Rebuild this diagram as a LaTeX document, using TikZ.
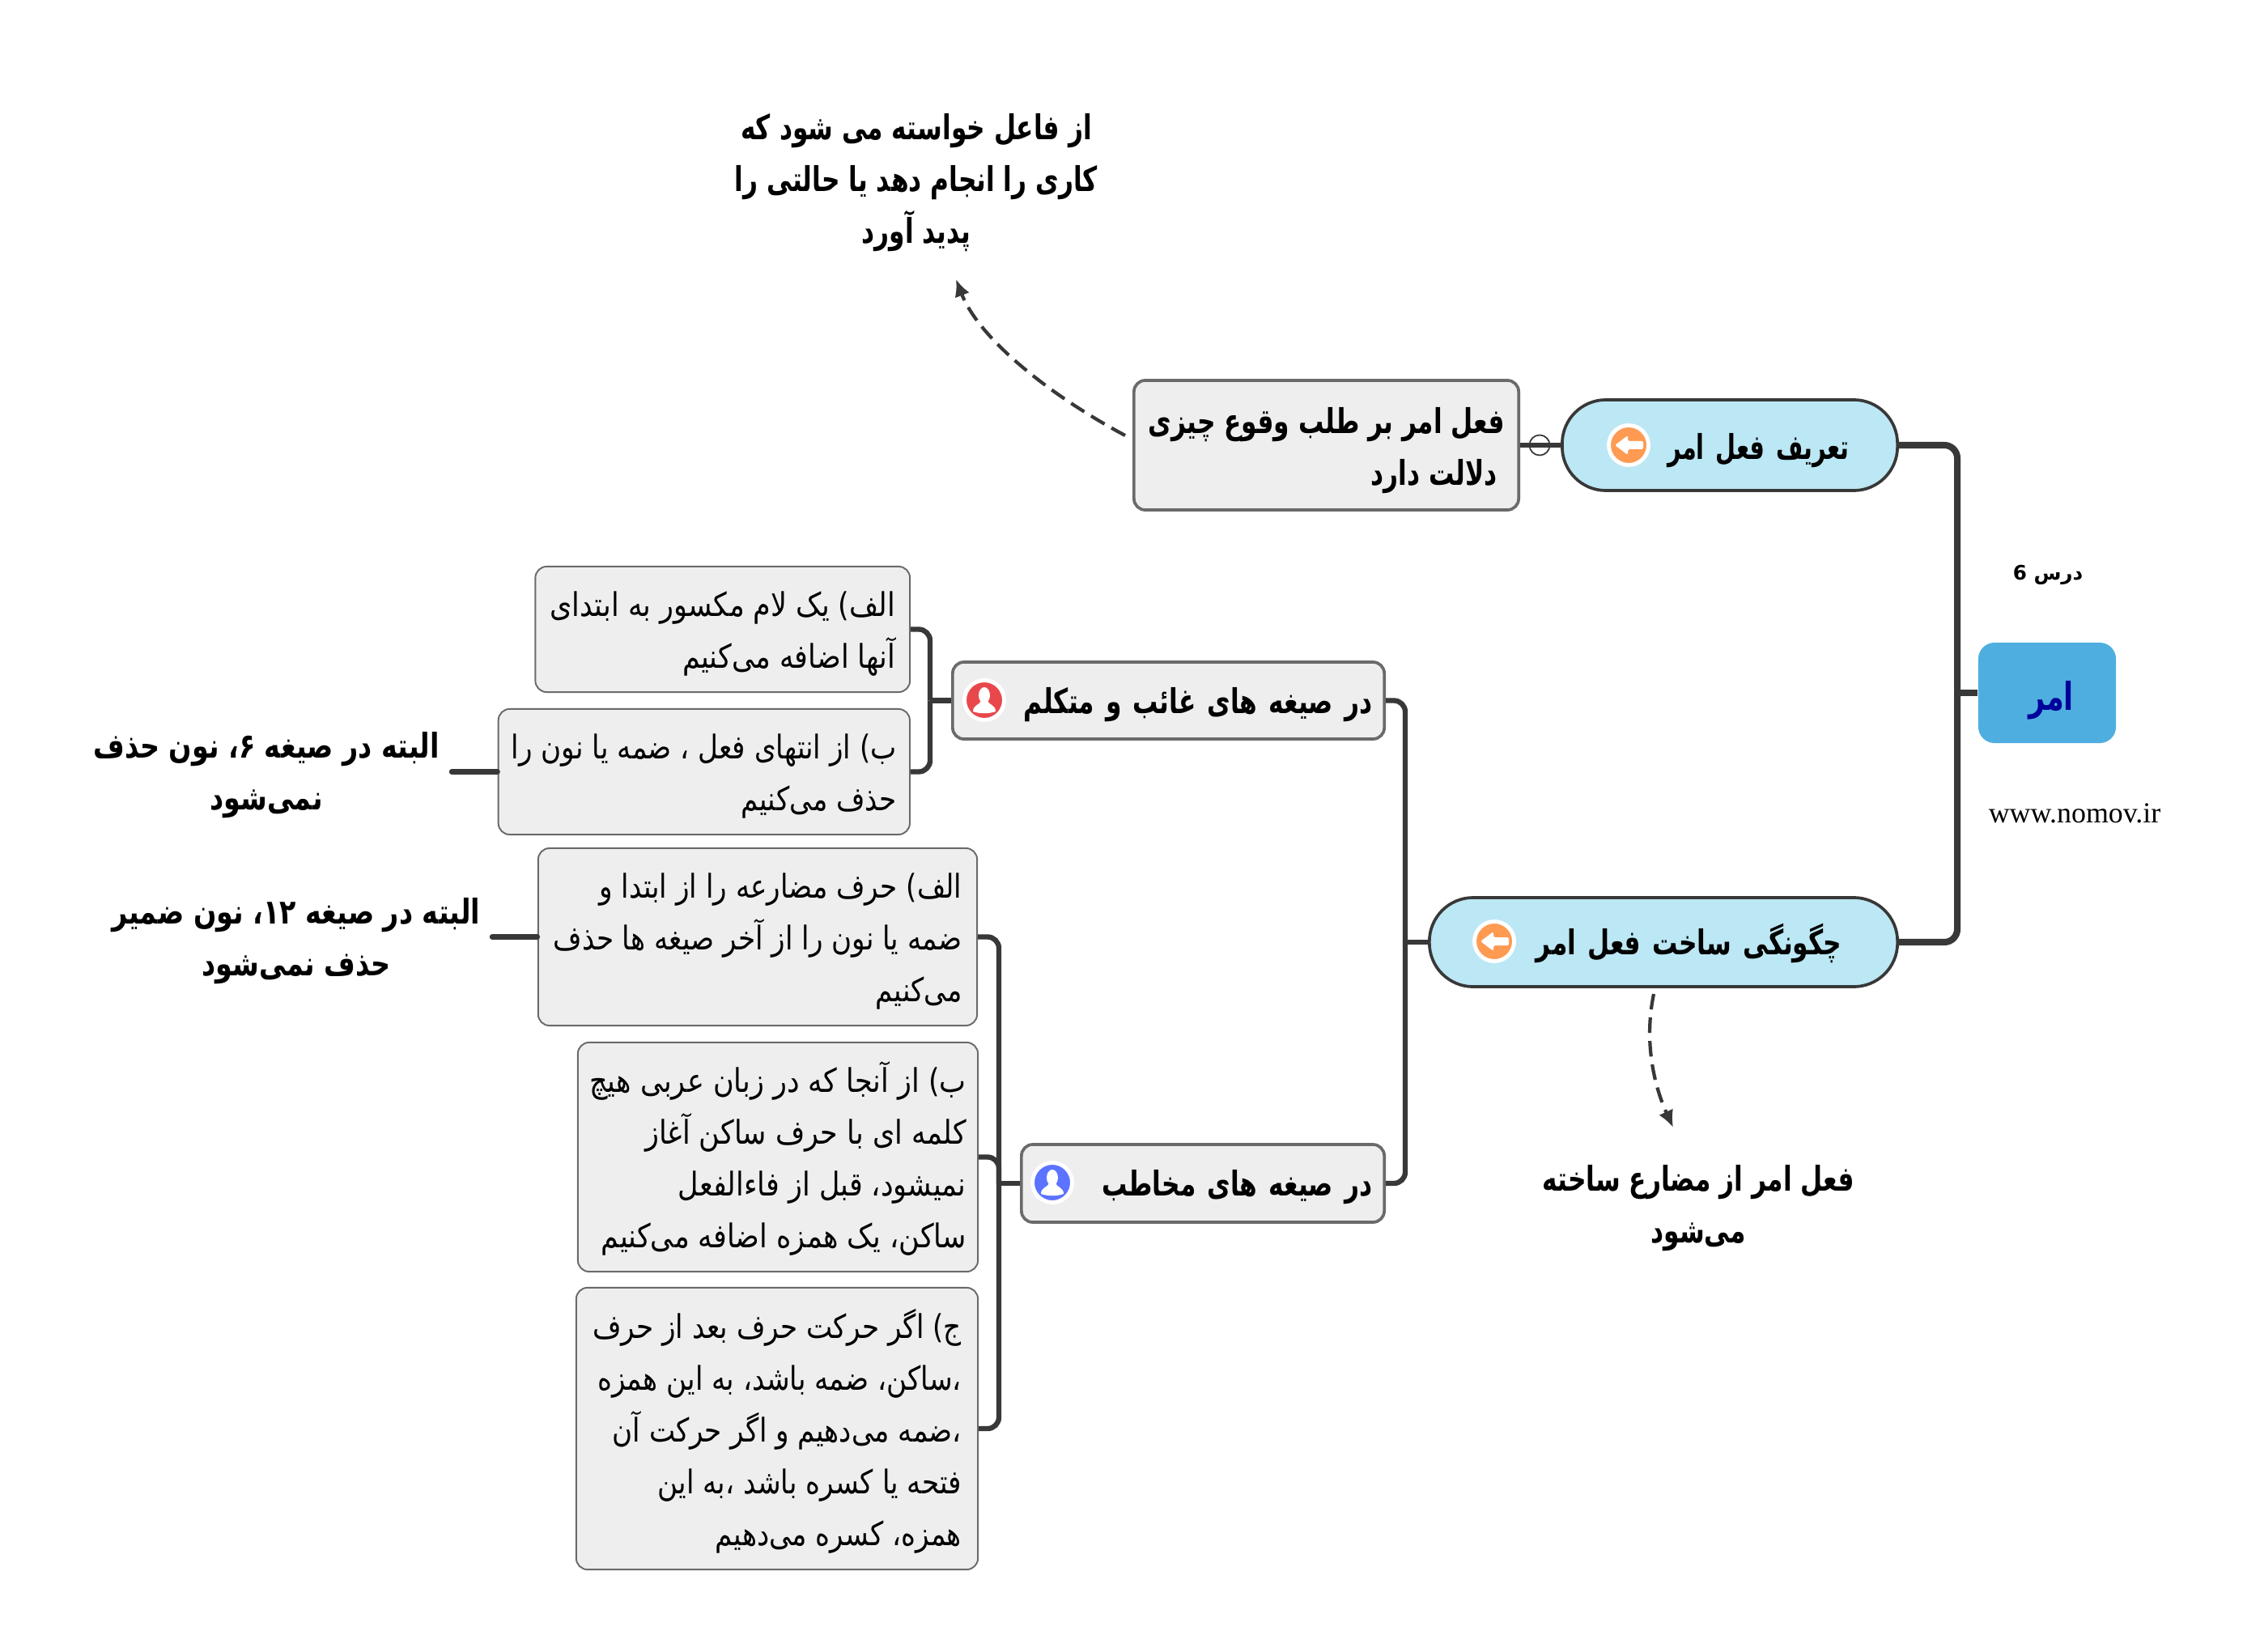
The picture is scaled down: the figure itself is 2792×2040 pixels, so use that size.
\documentclass[tikz,border=0pt]{standalone}
\usepackage{fontspec}
\setmainfont{Liberation Serif}
\newfontfamily\fa[Script=Arabic,FakeStretch=0.865]{DejaVu Sans}
\newfontfamily\fan[Script=Arabic,FakeStretch=0.845]{DejaVu Sans}
\newfontfamily\fab[Script=Arabic,FakeStretch=0.74]{DejaVu Sans}
\newfontfamily\fabn[Script=Arabic,FakeStretch=0.68]{DejaVu Sans}
\newfontfamily\fabw[Script=Arabic,FakeStretch=0.79]{DejaVu Sans}
\newfontfamily\faw[Script=Arabic]{DejaVu Sans}
\TeXXeTstate=1
\newcommand{\rl}[1]{\beginR #1\endR}
\newcommand{\fl}[1]{\rule{0pt}{0.42cm}\beginR #1\endR}
\newcommand{\flb}[1]{\rule{0pt}{0.45cm}\beginR #1\endR}
\usetikzlibrary{arrows.meta}
\definecolor{linec}{HTML}{383838}
\definecolor{boxf}{HTML}{EEEEEE}
\definecolor{boxd}{HTML}{6A6A6A}
\definecolor{pillf}{HTML}{BCE7F4}
\definecolor{rootf}{HTML}{4FAEE0}
\definecolor{roott}{HTML}{00009B}
\definecolor{ico}{HTML}{FF9A52}
\definecolor{icr}{HTML}{E8484C}
\definecolor{icb}{HTML}{5B73FF}
\tikzset{
 body/.style={font=\fa\fontsize{11.5}{18.2}\selectfont,align=right,inner sep=0pt},
 bodyn/.style={font=\fan\fontsize{11.5}{18.2}\selectfont},
 heavy/.style={font=\fab\bfseries\fontsize{12}{18.2}\selectfont,align=right,inner sep=0pt},
 heavyn/.style={font=\fabn\bfseries\fontsize{12}{18.2}\selectfont},
 heavyw/.style={font=\fabw\bfseries\fontsize{12}{18.2}\selectfont},
 thinbox/.style={body,draw=boxd,fill=boxf,line width=0.55pt,rounded corners=0.14cm},
 headbox/.style={heavy,draw=boxd,fill=boxf,line width=1.05pt,rounded corners=0.14cm},
 pill/.style={heavy,draw=linec,fill=pillf,line width=1.05pt,rounded corners=0.54cm},
 note/.style={heavy,align=center},
 tr0/.style={draw=linec,line width=2.3pt,rounded corners=0.16cm},
 tr1/.style={draw=linec,line width=1.8pt,rounded corners=0.14cm},
 dash1/.style={draw=linec,line width=1.2pt,dash pattern=on 5.5pt off 2.8pt,-{Latex[length=6pt,width=5.5pt]}},
 ringi/.style={circle,draw=white,line width=1.4pt,minimum size=0.49cm,inner sep=0pt},
 pics/arrowicon/.style={code={
   \fill[white,rounded corners=0.5pt] (-17,0) -- (-1,-12) -- (-1,-5) -- (18,-5) -- (18,5) -- (-1,5) -- (-1,12) -- cycle;}},
 pics/personicon/.style={code={
   \fill[white] (0,-6) ellipse (7 and 10);
   \fill[white] (-14,14) .. controls (-14,6) and (-6,6) .. (-4,1) -- (4,1) .. controls (6,6) and (14,6) .. (14,14) .. controls (6,17) and (-6,17) .. (-14,14) -- cycle;}},
}
\begin{document}
\begin{tikzpicture}[x=0.01cm,y=-0.01cm]
\useasboundingbox (0,0) rectangle (2792,2040);
% coordinates
\coordinate (c0) at (2418,856);
\coordinate (c1) at (1149,865.5);
\coordinate (c2) at (1234,1462);
\coordinate (c3) at (1736,1164);
\coordinate (p1) at (2344,550);
\coordinate (p2) at (2344,1164);
% trunk lies under the nodes
\draw[tr0] (p1) -| (c0);
\draw[tr0] (p2) -| (c0);
% nodes
\node[fill=rootf,rounded corners=0.2cm,minimum width=1.7cm,minimum height=1.24cm,inner sep=0pt,text=roott,font=\fab\bfseries\fontsize{13.5}{15}\selectfont] (root) at (2529,856) {\rule{0pt}{0.55cm}\hspace*{0.1cm}\rl{امر}};
\node[font=\faw\bfseries\fontsize{7}{9}\selectfont,inner sep=0pt] (les) at (2530,710) {\rl{درس 6}};
\node[font=\fontsize{10.2}{12}\selectfont,inner sep=0pt] (web) at (2563,1005) {www.nomov.ir};
\node[pill,heavyn,minimum width=4.14cm,minimum height=1.12cm,text width=2.94cm,inner xsep=0.6cm] (tarif) at (2137,550) {\flb{تعریف فعل امر}};
\node[pill,minimum width=5.78cm,minimum height=1.10cm,text width=4.4cm,inner xsep=0.69cm] (sakht) at (2055,1164) {\rule{0pt}{0.42cm}\rl{چگونگی ساخت فعل امر}};
\node[headbox,minimum width=4.75cm,minimum height=1.6cm] (defn) at (1638.5,550) {\flb{فعل امر بر طلب وقوع چیزی}\\\rl{دلالت دارد}\hspace*{0.09cm}};
\node[headbox,minimum width=5.33cm,minimum height=0.95cm,text width=5.03cm,inner xsep=0.15cm] (ghaeb) at (1443.5,865.5) {\fl{در صیغه های غائب و متکلم}};
\node[headbox,minimum width=4.48cm,minimum height=0.96cm,text width=4.18cm,inner xsep=0.15cm] (mokh) at (1486,1462) {\fl{در صیغه های مخاطب}};
\node[thinbox,minimum width=4.625cm,minimum height=1.55cm] (a1) at (892.75,777.5) {\fl{الف) یک لام مکسور به ابتدای}\\\rl{آنها اضافه می‌کنیم}};
\node[thinbox,bodyn,minimum width=5.08cm,minimum height=1.55cm] (b1) at (869.8,953.5) {\fl{ب) از انتهای فعل ، ضمه یا نون را}\\\rl{حذف می‌کنیم}};
\node[thinbox,bodyn,minimum width=5.42cm,minimum height=2.19cm] (a2) at (936,1157.5) {\fl{الف) حرف مضارعه را از ابتدا و}\\\rl{ضمه یا نون را از آخر صیغه ها حذف}\\\rl{می‌کنیم}};
\node[thinbox,minimum width=4.94cm,minimum height=2.83cm] (b2) at (961,1429.5) {\fl{ب) از آنجا که در زبان عربی هیچ}\\\rl{کلمه ای با حرف ساکن آغاز}\\\rl{نمیشود، قبل از فاءالفعل}\\\rl{ساکن، یک همزه اضافه می‌کنیم}};
\node[thinbox,bodyn,minimum width=4.96cm,minimum height=3.48cm] (j) at (960,1765) {\fl{ج) اگر حرکت حرف بعد از حرف}\\\rl{،ساکن، ضمه باشد، به این همزه}\\\rl{،ضمه می‌دهیم و اگر حرکت آن}\\\rl{فتحه یا کسره باشد ،به این}\\\rl{همزه، کسره می‌دهیم}};
\node[note,heavyw] (n1) at (329,958) {\rl{البته در صیغه ۶، نون حذف}\\\rl{نمی‌شود}};
\node[note,heavyw] (n2) at (366,1163) {\rl{البته در صیغه ۱۲، نون ضمیر}\\\rl{حذف نمی‌شود}};
\node[note] (n3) at (1132,226) {\rl{از فاعل خواسته می شود که}\\\rl{کاری را انجام دهد یا حالتی را}\\\rl{پدید آورد}};
\node[note] (n4) at (2098,1493) {\rl{فعل امر از مضارع ساخته}\\\rl{می‌شود}};
\node[ringi,fill=ico] (i1) at (2012,550) {};
\node[ringi,fill=ico] (i2) at (1846,1163) {};
\node[ringi,fill=icr] (i3) at (1216,865) {};
\node[ringi,fill=icb] (i4) at (1300,1461) {};
\pic at (i1) {arrowicon};
\pic at (i2) {arrowicon};
\pic at (i3) {personicon};
\pic at (i4) {personicon};
% connectors
\draw[tr0] (c0) -- (root.west);
\draw[tr1] (ghaeb.east) -| (c3);
\draw[tr1] (mokh.east) -| (c3);
\draw[tr1] (c3) -- (sakht.west);
\draw[tr1] (a1.east) -| (c1);
\draw[tr1] (b1.east) -| (c1);
\draw[tr1] (c1) -- (ghaeb.west);
\draw[tr1] (a2.east) -| (c2);
\draw[tr1] (b2.east) -| (c2);
\draw[tr1] (j.east) -| (c2);
\draw[tr1] (c2) -- (mokh.west);
\draw[tr1] (defn.east) -- (tarif.west);
\node[circle,draw=linec,line width=0.5pt,minimum size=0.25cm,inner sep=0pt] (knob) at (1902,550) {};
\coordinate (n1c) at (558,953.5);
\coordinate (n2c) at (608,1157.5);
\draw[tr1,line cap=round] (n1c) -- (b1.west);
\draw[tr1,line cap=round] (n2c) -- (a2.west);
\coordinate (s3) at (1390,538);
\coordinate (t3) at (1181,345);
\coordinate (s4) at (2043,1228);
\coordinate (t4) at (2067,1393);
\draw[dash1] (s3) .. controls (1300,490) and (1210,420) .. (t3);
\draw[dash1] (s4) .. controls (2030,1290) and (2045,1345) .. (t4);
\end{tikzpicture}
\end{document}
